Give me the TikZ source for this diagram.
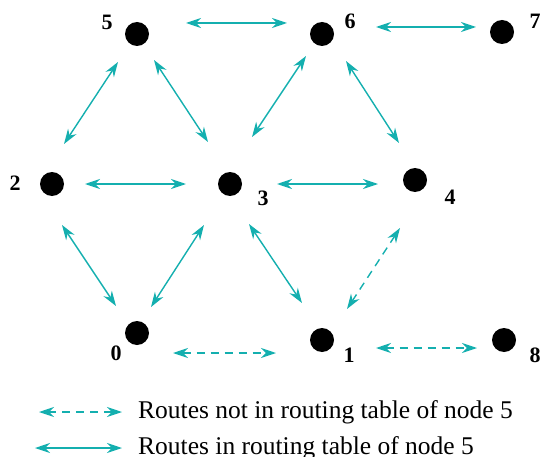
\documentclass[tikz,border=0pt]{standalone}
\usepackage{fontspec}
\setmainfont{Liberation Serif}
\usetikzlibrary{arrows.meta}
\definecolor{teal1}{RGB}{20,175,175}
\begin{document}
\begin{tikzpicture}[x=1pt,y=-1pt,
  dot/.style={circle,fill=black,inner sep=0pt,minimum size=24pt},
  lab/.style={font=\fontsize{22}{22}\selectfont\bfseries,inner sep=0pt},
  route/.style={draw=teal1,line width=1.4pt,{Stealth[length=15pt,width=10pt]}-{Stealth[length=15pt,width=10pt]}},
  noroute/.style={route,dash pattern=on 8pt off 6pt},
  legtext/.style={font=\fontsize{25.5}{25.5}\selectfont,anchor=west,inner sep=0pt}]
\useasboundingbox (0,0) rectangle (540,457);
% nodes
\node[dot] (n5) at (137,34) {};
\node[dot] (n6) at (322,34) {};
\node[dot] (n7) at (502,32) {};
\node[dot] (n2) at (52,184) {};
\node[dot] (n3) at (230,184) {};
\node[dot] (n4) at (415,180) {};
\node[dot] (n0) at (137,333) {};
\node[dot] (n1) at (322,340) {};
\node[dot] (n8) at (504,340) {};
% labels
\node[lab] (l5) at (107,22) {5};
\node[lab] (l6) at (350,21) {6};
\node[lab] (l7) at (535,21) {7};
\node[lab] (l2) at (15,183) {2};
\node[lab] (l3) at (263,198) {3};
\node[lab] (l4) at (450,197) {4};
\node[lab] (l0) at (116,353) {0};
\node[lab] (l1) at (349,355) {1};
\node[lab] (l8) at (535,355) {8};
% routes in table
\draw[route] ([shift={(49,-11)}]n5.center) -- ([shift={(-35,-11)}]n6.center);
\draw[route] ([shift={(54,-7)}]n6.center) -- ([shift={(-26,-5)}]n7.center);
\draw[route] ([shift={(-19,28)}]n5.center) -- ([shift={(12,-40)}]n2.center);
\draw[route] ([shift={(17,26)}]n5.center) -- ([shift={(-22,-42)}]n3.center);
\draw[route] ([shift={(-16,22)}]n6.center) -- ([shift={(22,-47)}]n3.center);
\draw[route] ([shift={(24,27)}]n6.center) -- ([shift={(-16,-37)}]n4.center);
\draw[route] ([shift={(33,0)}]n2.center) -- ([shift={(-44,0)}]n3.center);
\draw[route] ([shift={(47,0)}]n3.center) -- ([shift={(-37,4)}]n4.center);
\draw[route] ([shift={(10,41)}]n2.center) -- ([shift={(-21,-27)}]n0.center);
\draw[route] ([shift={(-26,41)}]n3.center) -- ([shift={(14,-26)}]n0.center);
\draw[route] ([shift={(19,40)}]n3.center) -- ([shift={(-20,-37)}]n1.center);
% routes not in table
\draw[noroute] ([shift={(-15,48)}]n4.center) -- ([shift={(25,-31)}]n1.center);
\draw[noroute] ([shift={(36,20)}]n0.center) -- ([shift={(-46,13)}]n1.center);
\draw[noroute] ([shift={(54,8)}]n1.center) -- ([shift={(-27,8)}]n8.center);
% legend
\coordinate (d1) at (39,412);
\coordinate (d2) at (122,412);
\coordinate (s1) at (35,448);
\coordinate (s2) at (122,448);
\draw[noroute] (d1) -- (d2);
\draw[route] (s1) -- (s2);
\node[legtext] (t1) at (138,412) {Routes not in routing table of node 5};
\node[legtext] (t2) at (138,448) {Routes in routing table of node 5};
\end{tikzpicture}
\end{document}
